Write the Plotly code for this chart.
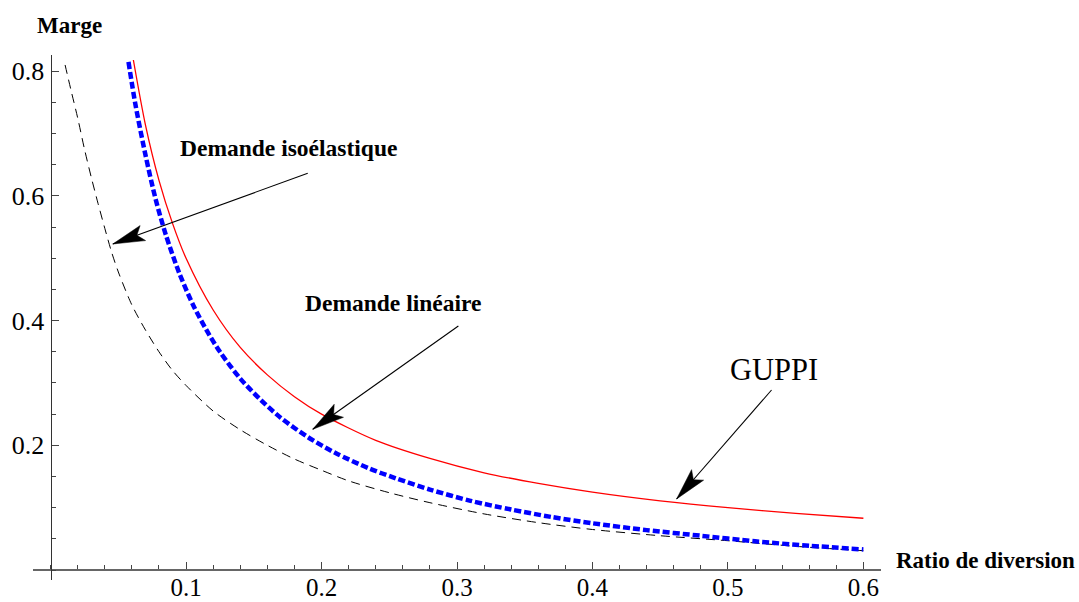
import plotly.graph_objects as go
import math

# ---------------- data ----------------
# GUPPI (red, solid)
guppi_x = [0.0611, 0.07, 0.08, 0.09, 0.10, 0.12, 0.14, 0.16, 0.18, 0.20, 0.24,
           0.28, 0.32, 0.36, 0.40, 0.45, 0.50, 0.55, 0.60]
guppi_y = [0.818, 0.714, 0.625, 0.556, 0.500, 0.417, 0.357, 0.313, 0.278, 0.250,
           0.208, 0.179, 0.156, 0.139, 0.125, 0.111, 0.100, 0.091, 0.083]

# Demande linéaire (blue, thick dotted)
lin_x = [0.0575, 0.0625, 0.07, 0.0775, 0.085, 0.095, 0.105, 0.115, 0.125, 0.14,
         0.155, 0.17, 0.19, 0.21, 0.235, 0.255, 0.28, 0.31, 0.34, 0.37, 0.40,
         0.44, 0.48, 0.52, 0.56, 0.60]
lin_y = [0.815, 0.748, 0.666, 0.595, 0.538, 0.476, 0.426, 0.385, 0.350, 0.307,
         0.273, 0.244, 0.213, 0.188, 0.163, 0.147, 0.129, 0.111, 0.097, 0.085,
         0.075, 0.064, 0.055, 0.046, 0.039, 0.033]

# Demande isoélastique (black, thin dashed)
iso_x = [0.0107, 0.015, 0.020, 0.025, 0.030, 0.035, 0.040, 0.045, 0.050, 0.060,
         0.070, 0.080, 0.090, 0.100, 0.120, 0.140, 0.160, 0.180, 0.200, 0.220,
         0.250, 0.280, 0.320, 0.360, 0.400, 0.450, 0.500, 0.550, 0.600]
iso_y = [0.810, 0.770, 0.725, 0.675, 0.630, 0.588, 0.548, 0.510, 0.478, 0.425,
         0.385, 0.350, 0.320, 0.296, 0.255, 0.225, 0.200, 0.178, 0.160, 0.143,
         0.124, 0.108, 0.090, 0.076, 0.065, 0.055, 0.047, 0.038, 0.031]

x_tickvals = [0.1, 0.2, 0.3, 0.4, 0.5, 0.6]
x_ticktext = ["0.1", "0.2", "0.3", "0.4", "0.5", "0.6"]
y_tickvals = [0.2, 0.4, 0.6, 0.8]
y_ticktext = ["0.2", "0.4", "0.6", "0.8"]

# ---------------- layout geometry ----------------
W, H = 1079, 602
ML, MR, MT, MB = 33, 198, 55, 22
XR = [-0.013, 0.613]
YR = [-0.016, 0.826]
pw = W - ML - MR
ph = H - MT - MB
sx = pw / (XR[1] - XR[0])
sy = ph / (YR[1] - YR[0])

SERIF = "Liberation Serif"

fig = go.Figure()
fig.add_trace(go.Scatter(x=iso_x, y=iso_y, mode="lines", name="Demande isoélastique",
                         line=dict(color="black", width=1, dash="9px,6px",
                                   shape="spline", smoothing=0.8)))
fig.add_trace(go.Scatter(x=lin_x, y=lin_y, mode="lines", name="Demande linéaire",
                         line=dict(color="#0000ff", width=4.5, dash="7px,3px",
                                   shape="spline", smoothing=0.8)))
fig.add_trace(go.Scatter(x=guppi_x, y=guppi_y, mode="lines", name="GUPPI",
                         line=dict(color="#ff0000", width=1.3,
                                   shape="spline", smoothing=0.8)))

# ---------------- arrows (tail -> tip, data coords) ----------------
arrows = [
    ((0.1898, 0.6363), (0.0459, 0.5229)),
    ((0.3010, 0.3913), (0.1935, 0.2257)),
    ((0.5322, 0.2887), (0.4621, 0.1139)),
]
shapes = []
for (tx, ty), (hx, hy) in arrows:
    shapes.append(dict(type="line", xref="x", yref="y", x0=tx, y0=ty, x1=hx, y1=hy,
                       line=dict(color="black", width=1.1)))
    dx = (tx - hx) * sx
    dy = (ty - hy) * sy
    n = math.hypot(dx, dy)
    ux, uy = dx / n, dy / n
    nx, ny = -uy, ux
    L, Wd, notch = 32, 8, 0.8
    pts_px = [(0, 0),
              (ux * L + nx * Wd, uy * L + ny * Wd),
              (ux * L * notch, uy * L * notch),
              (ux * L - nx * Wd, uy * L - ny * Wd)]
    pts = [(hx + px / sx, hy + py / sy) for px, py in pts_px]
    path = "M " + " L ".join(f"{x:.5f},{y:.5f}" for x, y in pts) + " Z"
    shapes.append(dict(type="path", xref="x", yref="y", path=path,
                       fillcolor="black", line=dict(color="black", width=0.5)))

annotations = [
    dict(xref="paper", yref="paper", x=(69.5 - ML) / pw, y=(H - MB - 26) / ph,
         text="<b>Marge</b>", font=dict(family=SERIF, size=23, color="black")),
    dict(xref="paper", yref="paper", x=(985 - ML) / pw, y=(H - MB - 560) / ph,
         text="<b>Ratio de diversion</b>", font=dict(family=SERIF, size=23, color="black")),
    dict(xref="x", yref="y", x=0.1758, y=0.677, text="<b>Demande isoélastique</b>",
         font=dict(family=SERIF, size=23.5, color="black")),
    dict(xref="x", yref="y", x=0.253, y=0.429, text="<b>Demande linéaire</b>",
         font=dict(family=SERIF, size=23.5, color="black")),
    dict(xref="x", yref="y", x=0.534, y=0.321, text="GUPPI",
         font=dict(family=SERIF, size=30.5, color="black")),
]
for a in annotations:
    a.update(showarrow=False, xanchor="center", yanchor="middle")

fig.update_layout(
    width=W, height=H,
    margin=dict(l=ML, r=MR, t=MT, b=MB, pad=0),
    paper_bgcolor="white", plot_bgcolor="white",
    showlegend=False,
    shapes=shapes,
    annotations=annotations,
    xaxis=dict(range=XR, anchor="free", position=(0 - YR[0]) / (YR[1] - YR[0]),
               showgrid=False, zeroline=False, showline=True, linecolor="#666666", linewidth=1.8,
               tickmode="array", tickvals=x_tickvals, ticktext=x_ticktext,
               ticks="inside", ticklen=7, tickwidth=1, tickcolor="#444444",
               ticklabelstandoff=-5,
               tickfont=dict(family=SERIF, size=25, color="black"),
               minor=dict(tickmode="linear", tick0=0, dtick=0.02, ticks="inside",
                          ticklen=4, tickwidth=1, tickcolor="#444444"),
               automargin=False, fixedrange=True),
    yaxis=dict(range=YR, anchor="free", position=(0 - XR[0]) / (XR[1] - XR[0]),
               showgrid=False, zeroline=False, showline=True, linecolor="#333333", linewidth=1.2,
               tickmode="array", tickvals=y_tickvals, ticktext=y_ticktext,
               ticks="inside", ticklen=7, tickwidth=1, tickcolor="#444444",
               ticklabelstandoff=1,
               tickfont=dict(family=SERIF, size=26, color="black"),
               minor=dict(tickmode="linear", tick0=0, dtick=0.05, ticks="inside",
                          ticklen=4, tickwidth=1, tickcolor="#444444"),
               automargin=False, fixedrange=True),
)

fig.write_html("out.html")
